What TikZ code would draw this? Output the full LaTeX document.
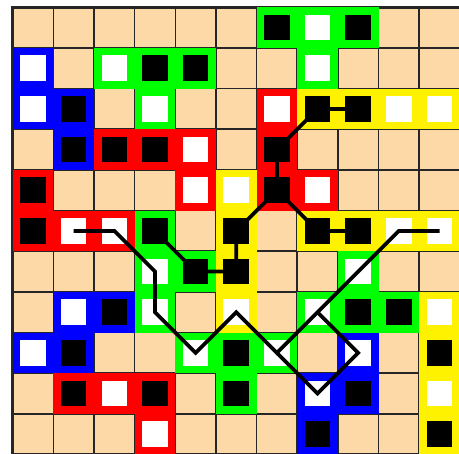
\documentclass[tikz,border=0pt]{standalone}
\usepackage{xcolor,tikz}
\usetikzlibrary{positioning}
\definecolor{sand}{RGB}{252,217,166}
\tikzset{bk/.style={draw=#1,fill=black,line width=1.85mm,minimum size=8.15mm,inner sep=0pt},
 wh/.style={draw=#1,fill=white,line width=1.85mm,minimum size=8.15mm,inner sep=0pt},
 gridline/.style={line width=1.1pt,black!85},rim/.style={line width=1.8pt,black!85},
 trail/.style={line width=2.6pt},link/.style={line width=2.6pt}}
\begin{document}
\begin{tikzpicture}[x=1cm,y=1cm]
\useasboundingbox (-.312,.18) rectangle (10.979,-10.965);
\fill[sand] (0,0) rectangle (11,-11);
\draw[gridline] (0,0) grid (11,-11);
\draw[rim] (0,0) rectangle (11,-11);
\node[bk=green](b0-6) at (6.5,-.5){};\node[wh=green](w0-7) at (7.5,-.5){};\node[bk=green](b0-8) at (8.5,-.5){};
\node[wh=blue](w1-0) at (.5,-1.5){};\node[wh=green](w1-2) at (2.5,-1.5){};\node[bk=green](b1-3) at (3.5,-1.5){};
\node[bk=green](b1-4) at (4.5,-1.5){};\node[wh=green](w1-7) at (7.5,-1.5){};
\node[wh=blue](w2-0) at (.5,-2.5){};\node[bk=blue](b2-1) at (1.5,-2.5){};\node[wh=green](w2-3) at (3.5,-2.5){};
\node[wh=red](w2-6) at (6.5,-2.5){};\node[bk=yellow](b2-7) at (7.5,-2.5){};\node[bk=yellow](b2-8) at (8.5,-2.5){};
\node[wh=yellow](w2-9) at (9.5,-2.5){};\node[wh=yellow](w2-10) at (10.5,-2.5){};
\node[bk=blue](b3-1) at (1.5,-3.5){};\node[bk=red](b3-2) at (2.5,-3.5){};\node[bk=red](b3-3) at (3.5,-3.5){};
\node[wh=red](w3-4) at (4.5,-3.5){};\node[bk=red](b3-6) at (6.5,-3.5){};
\node[bk=red](b4-0) at (.5,-4.5){};\node[wh=red](w4-4) at (4.5,-4.5){};\node[wh=yellow](w4-5) at (5.5,-4.5){};
\node[bk=red](b4-6) at (6.5,-4.5){};\node[wh=red](w4-7) at (7.5,-4.5){};
\node[bk=red](b5-0) at (.5,-5.5){};\node[wh=red](w5-1) at (1.5,-5.5){};\node[wh=red](w5-2) at (2.5,-5.5){};
\node[bk=green](b5-3) at (3.5,-5.5){};\node[bk=yellow](b5-5) at (5.5,-5.5){};\node[bk=yellow](b5-7) at (7.5,-5.5){};
\node[bk=yellow](b5-8) at (8.5,-5.5){};\node[wh=yellow](w5-9) at (9.5,-5.5){};\node[wh=yellow](w5-10) at (10.5,-5.5){};
\node[wh=green](w6-3) at (3.5,-6.5){};\node[bk=green](b6-4) at (4.5,-6.5){};\node[bk=yellow](b6-5) at (5.5,-6.5){};
\node[wh=green](w6-8) at (8.5,-6.5){};
\node[wh=blue](w7-1) at (1.5,-7.5){};\node[bk=blue](b7-2) at (2.5,-7.5){};\node[wh=green](w7-3) at (3.5,-7.5){};
\node[wh=yellow](w7-5) at (5.5,-7.5){};\node[wh=green](w7-7) at (7.5,-7.5){};\node[bk=green](b7-8) at (8.5,-7.5){};
\node[bk=green](b7-9) at (9.5,-7.5){};\node[wh=yellow](w7-10) at (10.5,-7.5){};
\node[wh=blue](w8-0) at (.5,-8.5){};\node[bk=blue](b8-1) at (1.5,-8.5){};\node[wh=green](w8-4) at (4.5,-8.5){};
\node[bk=green](b8-5) at (5.5,-8.5){};\node[wh=green](w8-6) at (6.5,-8.5){};\node[wh=blue](w8-8) at (8.5,-8.5){};
\node[bk=yellow](b8-10) at (10.5,-8.5){};
\node[bk=red](b9-1) at (1.5,-9.5){};\node[wh=red](w9-2) at (2.5,-9.5){};\node[bk=red](b9-3) at (3.5,-9.5){};
\node[bk=green](b9-5) at (5.5,-9.5){};\node[wh=blue](w9-7) at (7.5,-9.5){};\node[bk=blue](b9-8) at (8.5,-9.5){};
\node[wh=yellow](w9-10) at (10.5,-9.5){};
\node[wh=red](w10-3) at (3.5,-10.5){};\node[bk=blue](b10-7) at (7.5,-10.5){};\node[bk=yellow](b10-10) at (10.5,-10.5){};
\draw[link](b2-8.center)--(b2-7.center)--(b3-6.center)--(b4-6.center)--(b5-5.center)--(b6-5.center)--(b6-4.center)--(b5-3.center);
\draw[link](b4-6.center)--(b5-7.center)--(b5-8.center);
\draw[trail](w5-1.center)--(w5-2.center)--(w6-3.center)--(w7-3.center)--(w8-4.center)--(w7-5.center)--(w8-6.center)
 --(w7-7.center)--(w6-8.center)--(w5-9.center)--(w5-10.center);
\draw[trail](w8-6.center)--(w9-7.center)--(w8-8.center)--(w7-7.center);
\end{tikzpicture}
\end{document}
